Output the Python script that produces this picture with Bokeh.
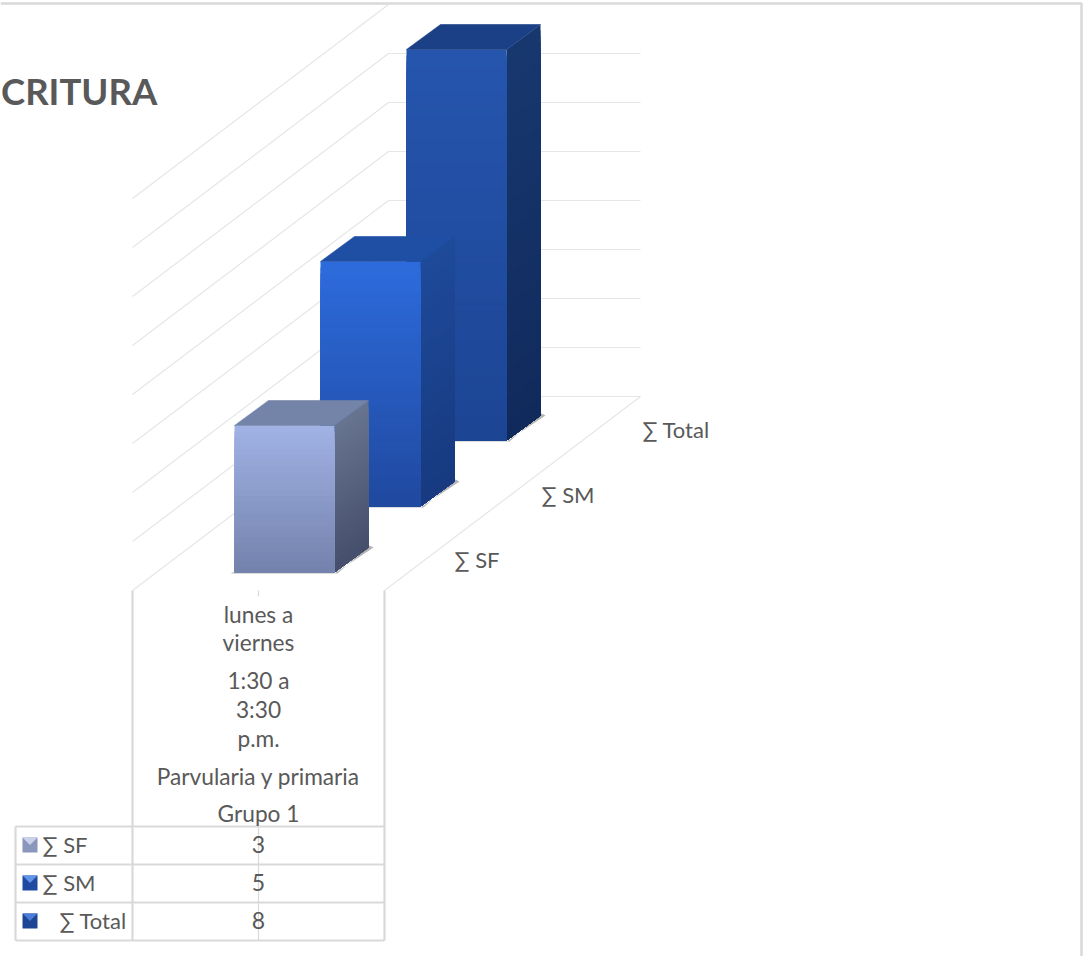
from bokeh.plotting import figure
from bokeh.models import Range1d
from bokeh.core.properties import value
from bokeh.embed import file_html
from bokeh.resources import INLINE

series = ["∑ SF", "∑ SM", "∑ Total"]
values = [3, 5, 8]
axis_ticks = list(range(0, 9))
category_lines = ["lunes a", "viernes", "1:30 a", "3:30", "p.m.", "Parvularia y primaria", "Grupo 1"]
title_text = "CRITURA"

FONT = value("Lato")
TXT = "#595959"
GRID = "#e6e6e6"
TABLE = "#d9d9d9"

front_cols = [("#a0b1e4", "#7483ad"), ("#2d6bdc", "#2049a0"), ("#2655ae", "#1c4594")]
side_cols = [("#67748f", "#464f6c"), ("#1e4a9a", "#173a80"), ("#17386f", "#112a5c")]
top_cols = ["#7483a8", "#1f4ea5", "#1b4086"]
key_cols = [("#7f8bb0", "#c9d2ea"), ("#2150a8", "#5f94e8"), ("#1b3f85", "#4a7dd8")]

p = figure(width=1083, height=956, x_range=Range1d(0, 1083), y_range=Range1d(956, 0),
           toolbar_location=None, output_backend="svg", min_border=0, margin=(0, 0, 0, 0))
p.xaxis.visible = False
p.yaxis.visible = False
p.xgrid.visible = False
p.ygrid.visible = False
p.outline_line_color = None


def Y(v):
    return 396 - 49 * v


# frame
p.line([0, 1081, 1081], [3, 3, 956], line_color=TABLE, line_width=2.5)

# walls
for t in axis_ticks:
    if t > 0:
        p.line([132, 388, 640], [Y(t) + 194, Y(t), Y(t)], line_color=GRID, line_width=1.2)

# floor
p.line([132, 388, 640, 384], [590, 396, 396, 590], line_color=GRID, line_width=1.2)


def mix(c1, c2, f):
    a = [int(c1[i:i + 2], 16) for i in (1, 3, 5)]
    b = [int(c2[i:i + 2], 16) for i in (1, 3, 5)]
    return "#%02x%02x%02x" % tuple(round(x + (y - x) * f) for x, y in zip(a, b))


DX, DY, W = 34, -25, 100
STRIP = 6
order = list(range(len(values)))[::-1]
for i in order:
    x0 = 234 + 86 * i
    base = 572 - 66 * i
    top = base - 49 * values[i] + (1 if i == 2 else 0)
    h = base - top
    n = int(h // STRIP) + 1
    # contact shadow
    p.patch([x0 + W, x0 + W + DX + 5, x0 + W + DX + 1, x0 + W + 3],
            [base + 1, base + DY, base + DY - 2, base + 1], fill_color="#9a9a9a", line_color=None, alpha=0.75)
    p.line([x0 - 3, x0 + W], [base + 0.5, base + 0.5], line_color="#cfcfcf", line_width=1.5)
    xs, ys, cols, tops, bots, lefts, rights, fcols = [], [], [], [], [], [], [], []
    for k in range(n):
        f = k / max(n - 1, 1)
        y1 = top + h * k / n
        # each strip reaches the foot of the bar, the next one paints over it
        tops.append(y1)
        bots.append(base)
        lefts.append(x0)
        rights.append(x0 + W)
        fcols.append(mix(*front_cols[i], f))
        xs.append([x0 + W, x0 + W + DX, x0 + W + DX, x0 + W])
        ys.append([y1, y1 + DY, base + DY, base])
        cols.append(mix(*side_cols[i], f))
    p.patches(xs, ys, fill_color=cols, line_color=None)
    p.quad(left=lefts, right=rights, top=tops, bottom=bots, fill_color=fcols, line_color=None)
    p.patch([x0, x0 + DX, x0 + W + DX, x0 + W], [top, top + DY, top + DY, top],
            fill_color=top_cols[i], line_color=top_cols[i], line_width=0.6)

# category axis tick
p.line([258, 258], [590, 596], line_color=TABLE, line_width=1.2)

# series axis labels
sx = [454, 541, 642]
sy = [558.5, 493.5, 428.5]
p.text(sx, sy, text=series, text_font=FONT, text_font_size="22px", text_color=TXT,
       text_align="left", text_baseline="middle")

# data table
RX = [15, 132, 384]
RY = [826, 864, 902, 940]
for y in RY:
    p.line([RX[0], RX[2]], [y, y], line_color=TABLE, line_width=2.2)
p.line([RX[1], RX[1]], [590, 940], line_color=TABLE, line_width=2.2)
p.line([RX[2], RX[2]], [590, 940], line_color=TABLE, line_width=2.2)
p.line([RX[0], RX[0]], [826, 940], line_color=TABLE, line_width=2.2)
p.line([258, 258], [826, 940], line_color=TABLE, line_width=1.2)

cat_y = [614, 642, 680, 709, 738, 776, 813]
p.text([258] * len(category_lines), cat_y, text=category_lines, text_font=FONT, text_font_size="22.7px",
       text_color=TXT, text_align="center", text_baseline="middle")

row_mid = [845, 883, 921]
text_mid = [y - 1.5 for y in row_mid]
p.text([258] * 3, text_mid, text=[str(v) for v in values], text_font=FONT, text_font_size="23px",
       text_color=TXT, text_align="center", text_baseline="middle")
label_x = [42, 42, 59]
p.text(label_x, text_mid, text=series, text_font=FONT, text_font_size="22px", text_color=TXT,
       text_align="left", text_baseline="middle")

for i, ym in enumerate(row_mid):
    p.quad(left=[22], right=[37], top=[ym - 8], bottom=[ym + 7], fill_color=front_cols[i][1] if i else "#8a96bb",
           line_color=None)
    p.patch([22, 37, 29.5], [ym - 8, ym - 8, ym - 0.5], fill_color=key_cols[i][1], line_color=None)

# title
p.text([0.5], [90], text=[title_text], text_font=FONT, text_font_size="36.5px", text_font_style="bold",
       text_color=TXT, text_align="left", text_baseline="middle")

open("out.html", "w").write(file_html(p, INLINE))
